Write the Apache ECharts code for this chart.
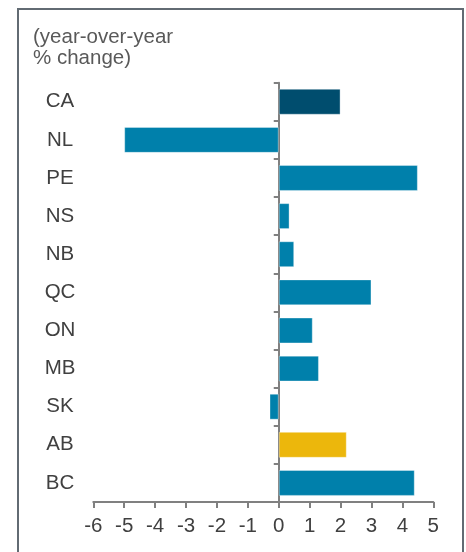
<!DOCTYPE html>
<html>
<head>
<meta charset="utf-8">
<script src="https://cdn.jsdelivr.net/npm/echarts@6/dist/echarts.min.js"></script>
<style>
  html, body { margin: 0; padding: 0; background: #ffffff; }
  #chart { width: 466px; height: 552px; }
</style>
</head>
<body>
<div id="chart"></div>
<script>
// Provinces, top to bottom, and their year-over-year % change
const provinces = ['CA', 'NL', 'PE', 'NS', 'NB', 'QC', 'ON', 'MB', 'SK', 'AB', 'BC'];
const changes = [2.0, -5.0, 4.5, 0.35, 0.5, 3.0, 1.1, 1.3, -0.3, 2.2, 4.4];
const xTicks = { min: -6, max: 5, step: 1 };
const unitLabel = '(year-over-year\n% change)';

const BLUE = '#0080ab';
const NAVY = '#004d6e';
const GOLD = '#ecb70c';
const AXIS = '#808080';
const TEXT = '#404040';
const FONT = 'Liberation Sans, Arial, sans-serif';
const FS = 20.5;

function barColor(name) {
  if (name === 'CA') return NAVY;
  if (name === 'AB') return GOLD;
  return BLUE;
}

const chart = echarts.init(document.getElementById('chart'), null, { renderer: 'canvas' });

chart.setOption({
  animation: false,
  backgroundColor: '#ffffff',
  graphic: [
    {
      type: 'rect',
      shape: { x: 18, y: 9, width: 445, height: 560 },
      style: { fill: 'none', stroke: '#626b73', lineWidth: 2 },
      silent: true
    },
    {
      type: 'text',
      x: 33,
      y: 27,
      style: {
        text: unitLabel,
        font: FS + 'px ' + FONT,
        fill: '#595959',
        lineHeight: 21,
        textVerticalAlign: 'top'
      }
    }
  ],
  grid: {
    left: 93.3, right: 32.7, top: 82.7, bottom: 50,
    containLabel: false,
    outerBoundsMode: 'none'
  },
  xAxis: {
    type: 'value',
    min: xTicks.min,
    max: xTicks.max,
    interval: xTicks.step,
    axisLine: { show: true, onZero: false, lineStyle: { color: AXIS, width: 2 } },
    axisTick: { show: true, length: 6, lineStyle: { color: AXIS, width: 2 } },
    splitLine: { show: false },
    axisLabel: { color: TEXT, fontSize: FS, fontFamily: FONT, margin: 14 }
  },
  yAxis: [
    {
      // the zero line with category boundary ticks
      type: 'category',
      data: provinces,
      inverse: true,
      axisLine: { show: true, onZero: true, lineStyle: { color: AXIS, width: 2 } },
      axisTick: { show: true, length: 5, alignWithLabel: false, lineStyle: { color: AXIS, width: 2 } },
      splitLine: { show: false },
      axisLabel: { show: false }
    },
    {
      // province names along the left edge
      type: 'category',
      data: provinces,
      inverse: true,
      position: 'left',
      offset: 0,
      axisLine: { show: false, onZero: false },
      axisTick: { show: false },
      splitLine: { show: false },
      axisLabel: {
        color: TEXT,
        fontSize: FS,
        fontFamily: FONT,
        margin: 33.3,
        align: 'center'
      }
    }
  ],
  series: [
    {
      type: 'bar',
      yAxisIndex: 0,
      barCategoryGap: '32%',
      data: changes.map((v, i) => ({
        value: v,
        itemStyle: { color: barColor(provinces[i]) }
      })),
      itemStyle: { borderColor: 'rgba(255,255,255,0.35)', borderWidth: 1 },
      z: 1
    }
  ]
});
</script>
</body>
</html>
